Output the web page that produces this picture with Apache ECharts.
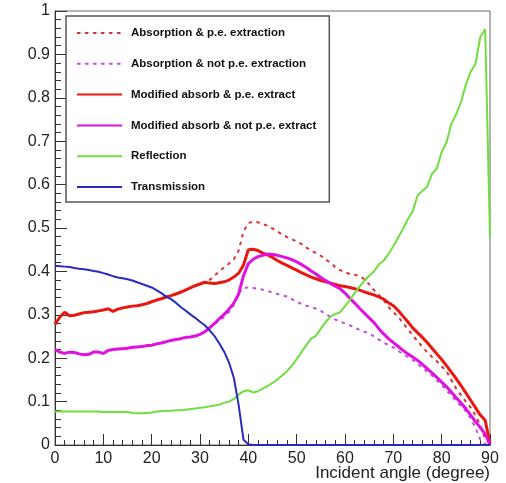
<!DOCTYPE html>
<html>
<head>
<meta charset="utf-8">
<script src="https://cdn.jsdelivr.net/npm/echarts@6/dist/echarts.min.js"></script>
<style>
html,body{margin:0;padding:0;background:#fff;}
#chart{width:506px;height:483px;}
</style>
</head>
<body>
<div id="chart"></div>
<script>
// Incident angle (degree), one value per degree 0..90
const angles = Array.from({length: 91}, (_, i) => i);

const seriesNames = [
  'Absorption & p.e. extraction',
  'Absorption & not p.e. extraction',
  'Modified absorb & p.e. extract',
  'Modified absorb & not p.e. extract',
  'Reflection',
  'Transmission'
];

const absPe = [
  0.278,0.295,0.306,0.298,0.299,0.302,0.305,0.306,0.307,0.309,0.311,
  0.314,0.308,0.313,0.316,0.318,0.320,0.321,0.323,0.326,0.330,
  0.334,0.337,0.341,0.344,0.348,0.352,0.357,0.362,0.367,0.371,
  0.375,0.380,0.390,0.400,0.410,0.418,0.428,0.448,0.492,0.511,
  0.515,0.513,0.509,0.505,0.499,0.492,0.485,0.479,0.474,0.469,
  0.463,0.455,0.448,0.442,0.436,0.428,0.419,0.410,0.403,0.398,
  0.394,0.392,0.390,0.382,0.370,0.357,0.346,0.334,0.318,0.306,
  0.296,0.281,0.267,0.252,0.240,0.226,0.214,0.203,0.193,0.181,
  0.170,0.150,0.130,0.115,0.100,0.086,0.068,0.045,0.015,0.002
];

const absNotPe = [
  0.220,0.214,0.211,0.214,0.213,0.210,0.208,0.209,0.214,0.214,0.211,
  0.218,0.220,0.221,0.222,0.223,0.225,0.226,0.227,0.229,0.230,
  0.233,0.235,0.238,0.241,0.243,0.245,0.248,0.249,0.251,0.255,
  0.261,0.272,0.280,0.286,0.296,0.307,0.322,0.350,0.362,0.363,
  0.362,0.360,0.358,0.355,0.351,0.348,0.345,0.342,0.336,0.330,
  0.325,0.321,0.318,0.314,0.309,0.302,0.295,0.289,0.284,0.280,
  0.276,0.271,0.265,0.261,0.257,0.250,0.243,0.236,0.230,0.225,
  0.217,0.209,0.203,0.196,0.187,0.178,0.169,0.160,0.149,0.138,
  0.126,0.114,0.101,0.090,0.078,0.061,0.040,0.012,0.002,0.000
];

const modAbsPe = [
  0.278,0.295,0.306,0.298,0.299,0.302,0.305,0.306,0.307,0.309,0.311,
  0.314,0.308,0.313,0.316,0.318,0.320,0.321,0.323,0.326,0.330,
  0.334,0.337,0.341,0.344,0.348,0.352,0.357,0.362,0.367,0.371,
  0.375,0.373,0.372,0.374,0.376,0.380,0.387,0.396,0.415,0.450,
  0.451,0.448,0.442,0.438,0.432,0.425,0.419,0.414,0.408,0.403,
  0.397,0.392,0.387,0.383,0.379,0.376,0.373,0.370,0.367,0.365,
  0.363,0.360,0.357,0.353,0.349,0.346,0.341,0.336,0.328,0.321,
  0.310,0.297,0.284,0.270,0.259,0.248,0.236,0.223,0.210,0.197,
  0.183,0.168,0.153,0.137,0.120,0.103,0.086,0.069,0.057,0.003
];

const modAbsNotPe = [
  0.220,0.214,0.211,0.214,0.213,0.210,0.208,0.209,0.214,0.214,0.211,
  0.218,0.220,0.221,0.222,0.223,0.225,0.226,0.227,0.229,0.230,
  0.233,0.235,0.238,0.241,0.243,0.245,0.248,0.249,0.251,0.255,
  0.261,0.270,0.280,0.291,0.301,0.313,0.327,0.348,0.390,0.418,
  0.428,0.434,0.437,0.440,0.439,0.437,0.434,0.431,0.427,0.422,
  0.416,0.409,0.401,0.394,0.386,0.379,0.372,0.366,0.360,0.350,
  0.338,0.327,0.315,0.304,0.293,0.282,0.268,0.256,0.245,0.236,
  0.227,0.218,0.210,0.203,0.195,0.186,0.176,0.166,0.156,0.145,
  0.134,0.122,0.109,0.097,0.084,0.069,0.054,0.040,0.025,0.003
];

const reflection = [
  0.077,0.077,0.077,0.077,0.077,0.077,0.077,0.077,0.077,0.077,
  0.076,0.076,0.076,0.076,0.076,0.076,
  0.074,0.073,0.073,0.074,
  0.075,
  0.077,0.078,0.079,0.079,0.080,0.080,0.081,0.083,0.084,0.086,
  0.087,0.089,0.091,0.093,0.097,0.100,0.106,0.116,0.124,0.126,
  0.121,0.124,0.130,0.136,0.143,0.151,0.160,0.170,0.183,0.198,
  0.214,0.230,0.245,0.252,0.268,0.283,0.296,0.302,0.306,0.320,
  0.334,0.350,0.365,0.378,0.390,0.400,0.416,0.425,0.440,0.458,
  0.478,0.498,0.520,0.538,0.575,0.585,0.595,0.625,0.637,0.675,
  0.697,0.740,0.762,0.790,0.830,0.860,0.878,0.940,0.958,0.480
];

const transmission = [
  0.413,0.412,0.411,0.410,0.408,0.406,0.405,0.403,0.401,0.399,0.396,
  0.393,0.389,0.386,0.384,0.382,0.379,0.375,0.371,0.367,0.363,
  0.357,0.350,0.342,0.336,0.328,0.318,0.310,0.301,0.293,0.284,
  0.276,0.264,0.251,0.234,0.215,0.190,0.155,0.092,0.012,0.002,
  0,0,0,0,0,0,0,0,0,0,
  0,0,0,0,0,0,0,0,0,0,
  0,0,0,0,0,0,0,0,0,0,
  0,0,0,0,0,0,0,0,0,0,
  0,0,0,0,0,0,0,0,0,0
];

const xTitle = 'Incident angle (degree)';

const FONT = '"Liberation Sans", Arial, Helvetica, sans-serif';
const pairs = vals => angles.map((a, i) => [a, vals[i]]);

const styles = [
  {color: '#dd3030', width: 2, type: [3.5, 4.5]},
  {color: '#c050dd', width: 2, type: [3.5, 4.5]},
  {color: '#e81810', width: 3, type: 'solid'},
  {color: '#e010e0', width: 3, type: 'solid'},
  {color: '#70dd40', width: 2, type: 'solid'},
  {color: '#2a2ac0', width: 2, type: 'solid'}
];
const allValues = [absPe, absNotPe, modAbsPe, modAbsNotPe, reflection, transmission];

const chart = echarts.init(document.getElementById('chart'), null, {renderer: 'canvas'});
chart.setOption({
  animation: false,
  backgroundColor: '#ffffff',
  textStyle: {fontFamily: FONT},
  grid: {left: 55, right: 16, top: 11, bottom: 38, show: true, borderColor: '#666', borderWidth: 1,
         containLabel: false, outerBoundsMode: 'none'},
  xAxis: {
    type: 'value', min: 0, max: 90, interval: 10,
    axisLine: {lineStyle: {color: '#333', width: 1}},
    axisTick: {inside: true, length: 11, lineStyle: {color: '#333', width: 1}},
    minorTick: {show: true, splitNumber: 5, length: 5, lineStyle: {color: '#333', width: 1}},
    splitLine: {show: false},
    axisLabel: {fontSize: 16, color: '#222', margin: 6, fontFamily: FONT},
    name: xTitle, nameLocation: 'end', nameGap: 0, nameMoveOverlap: false,
    nameTextStyle: {align: 'right', verticalAlign: 'top', padding: [20, 0, 0, 0], fontSize: 17, color: '#222', fontFamily: FONT}
  },
  yAxis: {
    type: 'value', min: 0, max: 1, interval: 0.1,
    axisLine: {show: true, lineStyle: {color: '#333', width: 1}},
    axisTick: {show: true, inside: true, length: 12, lineStyle: {color: '#333', width: 1}},
    minorTick: {show: true, splitNumber: 5, length: 6, lineStyle: {color: '#333', width: 1}},
    splitLine: {show: false},
    axisLabel: {fontSize: 16, color: '#222', margin: 5, fontFamily: FONT}
  },
  legend: {
    orient: 'vertical', left: 66, top: 16,
    padding: [11, 13, 9, 10],
    itemWidth: 45, itemHeight: 14, itemGap: 18.8,
    backgroundColor: '#fff', borderColor: '#555', borderWidth: 1.5,
    itemStyle: {opacity: 0},
    textStyle: {fontSize: 11.5, fontWeight: 'bold', color: '#111', fontFamily: FONT, padding: [0, 0, 0, 4]},
    data: seriesNames
  },
  series: seriesNames.map((n, k) => ({
    name: n, type: 'line', data: pairs(allValues[k]),
    symbol: 'none', smooth: false,
    lineStyle: {color: styles[k].color, width: styles[k].width, type: styles[k].type},
    itemStyle: {color: styles[k].color},
    z: 2 + k
  }))
});
</script>
</body>
</html>
